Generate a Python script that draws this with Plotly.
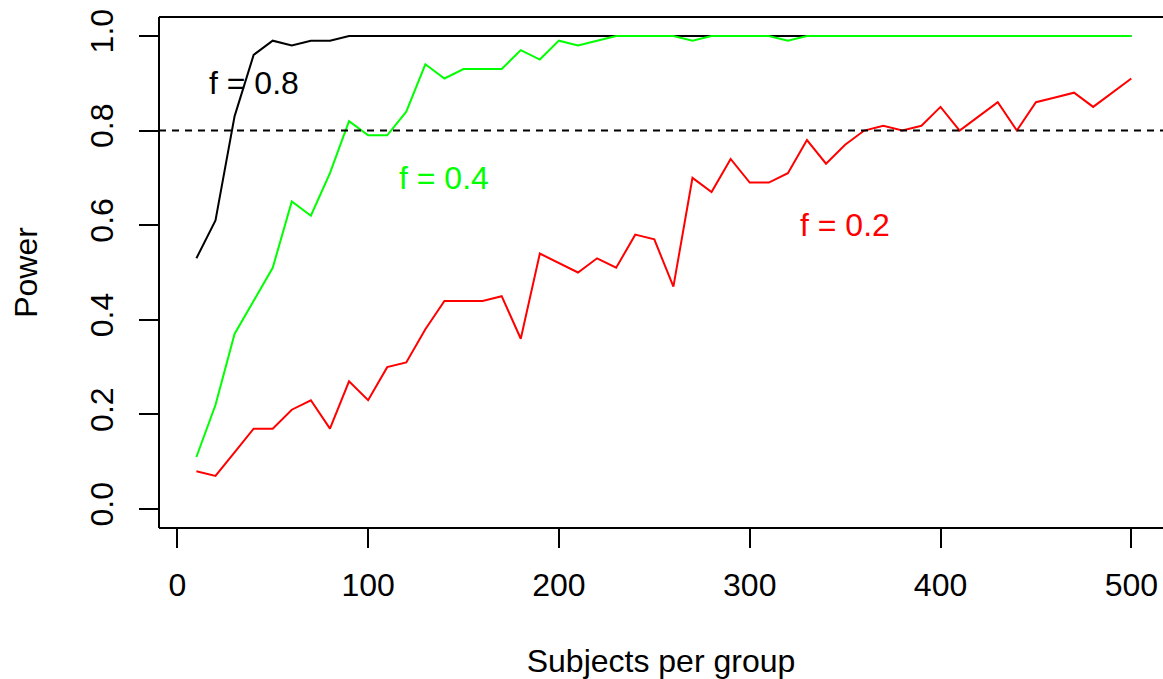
import plotly.graph_objects as go

n = [10, 20, 30, 40, 50, 60, 70, 80, 90, 100,
     110, 120, 130, 140, 150, 160, 170, 180, 190, 200,
     210, 220, 230, 240, 250, 260, 270, 280, 290, 300,
     310, 320, 330, 340, 350, 360, 370, 380, 390, 400,
     410, 420, 430, 440, 450, 460, 470, 480, 490, 500]

power_f08 = [0.53, 0.61, 0.83, 0.96, 0.99, 0.98, 0.99, 0.99, 1.00, 1.00,
             1.00, 1.00, 1.00, 1.00, 1.00, 1.00, 1.00, 1.00, 1.00, 1.00,
             1.00, 1.00, 1.00, 1.00, 1.00, 1.00, 1.00, 1.00, 1.00, 1.00,
             1.00, 1.00, 1.00, 1.00, 1.00, 1.00, 1.00, 1.00, 1.00, 1.00,
             1.00, 1.00, 1.00, 1.00, 1.00, 1.00, 1.00, 1.00, 1.00, 1.00]

power_f04 = [0.11, 0.22, 0.37, 0.44, 0.51, 0.65, 0.62, 0.71, 0.82, 0.79,
             0.79, 0.84, 0.94, 0.91, 0.93, 0.93, 0.93, 0.97, 0.95, 0.99,
             0.98, 0.99, 1.00, 1.00, 1.00, 1.00, 0.99, 1.00, 1.00, 1.00,
             1.00, 0.99, 1.00, 1.00, 1.00, 1.00, 1.00, 1.00, 1.00, 1.00,
             1.00, 1.00, 1.00, 1.00, 1.00, 1.00, 1.00, 1.00, 1.00, 1.00]

power_f02 = [0.08, 0.07, 0.12, 0.17, 0.17, 0.21, 0.23, 0.17, 0.27, 0.23,
             0.30, 0.31, 0.38, 0.44, 0.44, 0.44, 0.45, 0.36, 0.54, 0.52,
             0.50, 0.53, 0.51, 0.58, 0.57, 0.47, 0.70, 0.67, 0.74, 0.69,
             0.69, 0.71, 0.78, 0.73, 0.77, 0.80, 0.81, 0.80, 0.81, 0.85,
             0.80, 0.83, 0.86, 0.80, 0.86, 0.87, 0.88, 0.85, 0.88, 0.91]

target_power = 0.8

labels = ["f = 0.8", "f = 0.4", "f = 0.2"]
label_x = [40, 140, 350]
label_y = [0.9, 0.7, 0.6]
colors = ["#000000", "#00FF00", "#FF0000"]

x_ticks = [0, 100, 200, 300, 400, 500]
y_ticks = [0.0, 0.2, 0.4, 0.6, 0.8, 1.0]
y_tick_labels = ["0.0", "0.2", "0.4", "0.6", "0.8", "1.0"]

FONT = "Liberation Sans, Arial, sans-serif"
FS = 32

fig = go.Figure()
for ys, c in zip([power_f08, power_f04, power_f02], colors):
    fig.add_trace(go.Scatter(x=n, y=ys, mode="lines",
                             line=dict(color=c, width=2), showlegend=False))

fig.add_hline(y=target_power, line=dict(color="black", width=2, dash="7px,6px"))

for t, x, y, c in zip(labels, label_x, label_y, colors):
    fig.add_annotation(x=x, y=y, text=t, showarrow=False,
                       font=dict(family=FONT, size=FS, color=c),
                       xanchor="center", yanchor="middle")

# box (right side falls outside the picture)
for x0, y0, x1, y1 in [(0, 0, 0, 1), (0, 0, 1, 0), (0, 1, 1, 1)]:
    fig.add_shape(type="line", xref="paper", yref="paper",
                  x0=x0, y0=y0, x1=x1, y1=y1,
                  line=dict(color="black", width=2))

fig.update_layout(
    width=1163, height=679,
    margin=dict(l=159, r=0, t=17, b=151),
    plot_bgcolor="white", paper_bgcolor="white",
    font=dict(family=FONT, size=FS, color="black"),
)
fig.update_xaxes(range=[-9.6, 516.6], tickvals=x_ticks, ticks="outside",
                 ticklen=19, tickwidth=2, tickcolor="black",
                 showgrid=False, zeroline=False, showline=False,
                 ticklabelstandoff=10,
                 title=dict(text="Subjects per group", standoff=50,
                            font=dict(size=FS)))
fig.update_yaxes(range=[-0.04, 1.04], tickvals=y_ticks, ticktext=y_tick_labels,
                 ticks="outside", ticklen=19, tickwidth=2, tickcolor="black",
                 tickangle=-90,
                 showgrid=False, zeroline=False, showline=False,
                 ticklabelstandoff=13,
                 title=dict(text="Power", standoff=37, font=dict(size=FS)))

fig.write_html("out.html")
